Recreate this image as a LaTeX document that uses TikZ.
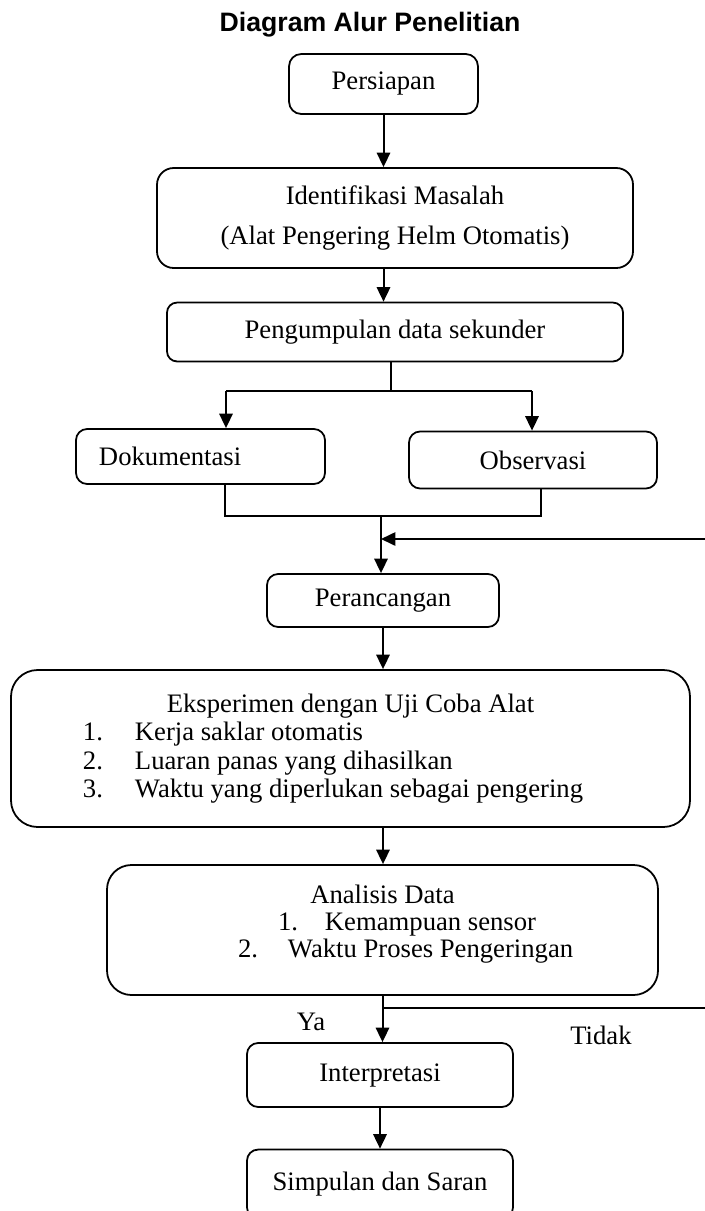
\documentclass[tikz,border=0pt]{standalone}
\usepackage{fontspec}
\setmainfont{Liberation Serif}
\newfontfamily\titlefont{Liberation Sans}
\usepackage{tikz}
\usetikzlibrary{positioning}
\usetikzlibrary{arrows.meta}

\begin{document}
\begin{tikzpicture}[
    x=0.45pt, y=-0.45pt,
    every node/.style = {draw, rectangle, rounded corners=5pt, line width=0.8pt, inner sep=0pt,
      font=\fontsize{12pt}{14pt}\selectfont},
    >={Triangle[width=6pt,length=6.5pt]},
    line width=0.9pt
    ]
    \useasboundingbox (0,0) rectangle (705,1211);
    \node[draw=none, font=\titlefont\bfseries\fontsize{12pt}{14pt}\selectfont] (title) at (370,25) {Diagram Alur Penelitian};
    \node[minimum width=85pt, minimum height=27pt, rounded corners=5.5pt] (persiapan) at (383.5,84) {Persiapan};
    \node[minimum width=214.2pt, minimum height=45pt, rounded corners=7.5pt, align=center] (identifikasi) at (395,218) {Identifikasi Masalah\\[4pt](Alat Pengering Helm Otomatis)};
    \node[minimum width=205.2pt, minimum height=26.5pt, rounded corners=4.5pt] (pengumpulan) at (395,332) {Pengumpulan data sekunder};
    \node[minimum height=24.75pt, text width=91.35pt, inner xsep=10.35pt, align=left] (dokumentasi) at (200.5,456.5) {Dokumentasi};
    \node[minimum width=111.6pt, minimum height=25.65pt] (observasi) at (533,460) {Observasi};
    \node[minimum width=104.4pt, minimum height=23.85pt] (perancangan) at (383,600.5) {Perancangan};
    \node[minimum width=305.55pt, minimum height=70.65pt, rounded corners=12pt,
      font=\fontsize{12pt}{12.8pt}\selectfont] (eksperimen) at (350.5,748.5) {\parbox{305.55pt}{\centering Eksperimen dengan Uji Coba Alat\par\raggedright
      \hspace*{32.4pt}\makebox[23.4pt][l]{1.}Kerja saklar otomatis\par
      \hspace*{32.4pt}\makebox[23.4pt][l]{2.}Luaran panas yang dihasilkan\par
      \hspace*{32.4pt}\makebox[23.4pt][l]{3.}Waktu yang diperlukan sebagai pengering}};
    \node[minimum width=247.95pt, minimum height=58.5pt, rounded corners=11pt,
      font=\fontsize{12pt}{12.2pt}\selectfont] (analisis) at (382.5,930) {\parbox{247.95pt}{\centering Analisis Data\par\raggedright
      \hspace*{76.95pt}\makebox[21.15pt][l]{1.}Kemampuan sensor\par
      \hspace*{58.95pt}\makebox[22.5pt][l]{2.}Waktu Proses Pengeringan\par\vspace*{5pt}}};
    \node[minimum width=119.7pt, minimum height=28.8pt] (interpretasi) at (380,1075) {Interpretasi};
    \node[minimum width=119.7pt, minimum height=31pt] (simpulan) at (380,1184) {Simpulan dan Saran};
    \node[draw=none] (ya) at (311,1022) {Ya};
    \node[draw=none] (tidak) at (601,1035) {Tidak};
    % persiapan to pengumpulan
    \draw[->] (persiapan.south) -- (persiapan.south |- identifikasi.north);
    \draw[->] (identifikasi.south -| persiapan) -- (persiapan |- pengumpulan.north);
    % split into the two sources
    \coordinate (forkL) at (226,391);
    \coordinate (forkR) at (532,391);
    \coordinate (forkM) at (391,391);
    \draw (forkM |- pengumpulan.south) -- (forkM);
    \draw (forkL) -- (forkR);
    \draw[->] (forkL) -- (forkL |- dokumentasi.north);
    \draw[->] (forkR) -- (forkR |- observasi.north);
    % join again
    \coordinate (joinL) at (225,516);
    \coordinate (joinR) at (541,516);
    \coordinate (merge) at (381,516);
    \draw (joinL |- dokumentasi.south) -- (joinL) -- (joinR) -- (joinR |- observasi.south);
    \draw[->] (merge) -- (merge |- perancangan.north);
    \coordinate (backend) at (705,539);
    \draw[->] (backend) -- (backend -| merge);
    % down to the end
    \draw[->] (perancangan.south) -- (perancangan.south |- eksperimen.north);
    \draw[->] (perancangan |- eksperimen.south) -- (perancangan |- analisis.north);
    \draw[->] (analisis.south) -- (analisis.south |- interpretasi.north);
    \coordinate (tidakend) at (705,1008);
    \draw (analisis.south |- tidakend) -- (tidakend);
    \draw[->] (interpretasi) -- (simpulan);
\end{tikzpicture}
\end{document}
